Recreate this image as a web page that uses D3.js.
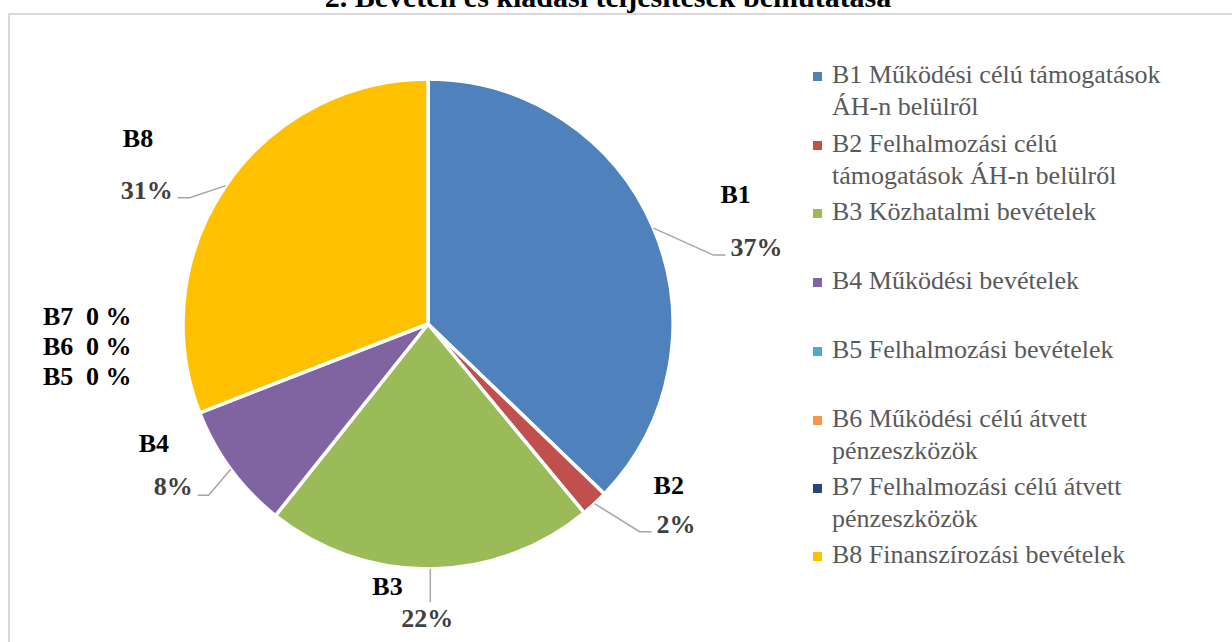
<!DOCTYPE html>
<html>
<head>
<meta charset="utf-8">
<script src="https://cdn.jsdelivr.net/npm/d3@7"></script>
<style>
  html, body { margin: 0; padding: 0; background: #fff; }
  svg { display: block; }
  text { font-family: "Liberation Serif", "DejaVu Serif", serif; }
</style>
</head>
<body>
<svg id="chart" width="1232" height="642"></svg>
<script>
// ---- data ----
const title = "2. Bevételi és kiadási teljesítések bemutatása";
const codes = ["B1", "B2", "B3", "B4", "B5", "B6", "B7", "B8"];
const legendLines = [
  ["B1 Működési célú támogatások", "ÁH-n belülről"],
  ["B2 Felhalmozási célú", "támogatások ÁH-n belülről"],
  ["B3 Közhatalmi bevételek"],
  ["B4 Működési bevételek"],
  ["B5 Felhalmozási bevételek"],
  ["B6 Működési célú átvett", "pénzeszközök"],
  ["B7 Felhalmozási célú átvett", "pénzeszközök"],
  ["B8 Finanszírozási bevételek"]
];
const shares = [37.2, 1.8, 21.7, 8.4, 0, 0, 0, 30.9];
const colors = ["#4f81bd", "#c0504d", "#9bbb59", "#8064a2", "#4bacc6", "#f79646", "#1f497d", "#ffc000"];

// ---- layout (styling, not data) ----
const cx = 428, cy = 324, R = 245;
// leader elbow offset from the arc anchor, tail length, and text offsets from leader end
const labelLayout = {
  B1: { elbow: [60, 27], tail: 12, name: [-5, -52, "start"], pct: [5, 1, "start"] },
  B2: { elbow: [45, 28], tail: 12, name: [2, -38, "start"], pct: [5, 1, "start"] },
  B3: { elbow: [0, 33], tail: 0, name: [-58, -7, "start"], pct: [-29, 25, "start"] },
  B4: { elbow: [-22, 26], tail: -11, name: [-59, -43, "start"], pct: [-5, 0, "end"] },
  B8: { elbow: [-36, 12], tail: -12, name: [-55, -51, "start"], pct: [-5, 1, "end"] }
};

const svg = d3.select("#chart");

// frame
svg.append("rect")
  .attr("x", 9).attr("y", 14).attr("width", 1300).attr("height", 700)
  .attr("fill", "none").attr("stroke", "#d9d9d9").attr("stroke-width", 2);

// title
svg.append("text")
  .attr("x", 608).attr("y", 7)
  .attr("text-anchor", "middle")
  .attr("font-weight", "bold").attr("font-size", 30)
  .attr("fill", "#000")
  .text(title);

const data = codes.map((c, i) => ({ code: c, value: shares[i], color: colors[i] }));
const pie = d3.pie().sort(null).value(d => d.value);
const arcs = pie(data);
const arc = d3.arc().innerRadius(0).outerRadius(R);

const g = svg.append("g").attr("transform", `translate(${cx},${cy})`);
g.selectAll("path.slice")
  .data(arcs.filter(a => a.data.value > 0))
  .join("path")
  .attr("class", "slice")
  .attr("d", arc)
  .attr("fill", d => d.data.color)
  .attr("stroke", "#fff")
  .attr("stroke-width", 3.5)
  .attr("stroke-linejoin", "round");

// labels for non-zero slices
const fmt = v => v === 0 ? "0 %" : Math.round(v) + "%";
arcs.filter(a => a.data.value > 0).forEach(a => {
  const L = labelLayout[a.data.code];
  const mid = (a.startAngle + a.endAngle) / 2;
  const ax = cx + R * Math.sin(mid), ay = cy - R * Math.cos(mid);
  const ex = ax + L.elbow[0], ey = ay + L.elbow[1];
  const tx = ex + L.tail, ty = ey;
  svg.append("polyline")
    .attr("points", [[ax, ay], [ex, ey], [tx, ty]].map(p => p.join(",")).join(" "))
    .attr("fill", "none").attr("stroke", "#a6a6a6").attr("stroke-width", 1.5);
  svg.append("text")
    .attr("x", tx + L.name[0]).attr("y", ty + L.name[1])
    .attr("text-anchor", L.name[2])
    .attr("font-weight", "bold").attr("font-size", 26)
    .attr("fill", "#000")
    .text(a.data.code);
  svg.append("text")
    .attr("x", tx + L.pct[0]).attr("y", ty + L.pct[1])
    .attr("text-anchor", L.pct[2])
    .attr("font-weight", "bold").attr("font-size", 26)
    .attr("fill", "#404040")
    .text(fmt(a.data.value));
});

// stacked labels for zero slices (B7, B6, B5)
const zeros = data.filter(d => d.value === 0).reverse();
zeros.forEach((d, i) => {
  const y = 325 + i * 30;
  svg.append("text")
    .attr("x", 43).attr("y", y)
    .attr("font-weight", "bold").attr("font-size", 26)
    .attr("fill", "#000").text(d.code);
  svg.append("text")
    .attr("x", 86).attr("y", y)
    .attr("font-weight", "bold").attr("font-size", 26)
    .attr("fill", "#000").text(fmt(d.value));
});

// legend
const legendBaselines = [83, 152, 220, 289, 358, 427, 495, 563];
const lg = svg.append("g");
legendLines.forEach((lines, i) => {
  const y = legendBaselines[i];
  lg.append("rect")
    .attr("x", 813).attr("y", y - 11).attr("width", 9).attr("height", 9)
    .attr("fill", colors[i]);
  const t = lg.append("text")
    .attr("font-size", 26)
    .attr("fill", "#595959");
  lines.forEach((ln, j) => {
    t.append("tspan").attr("x", 832).attr("y", y + j * 32).text(ln);
  });
});
</script>
</body>
</html>
